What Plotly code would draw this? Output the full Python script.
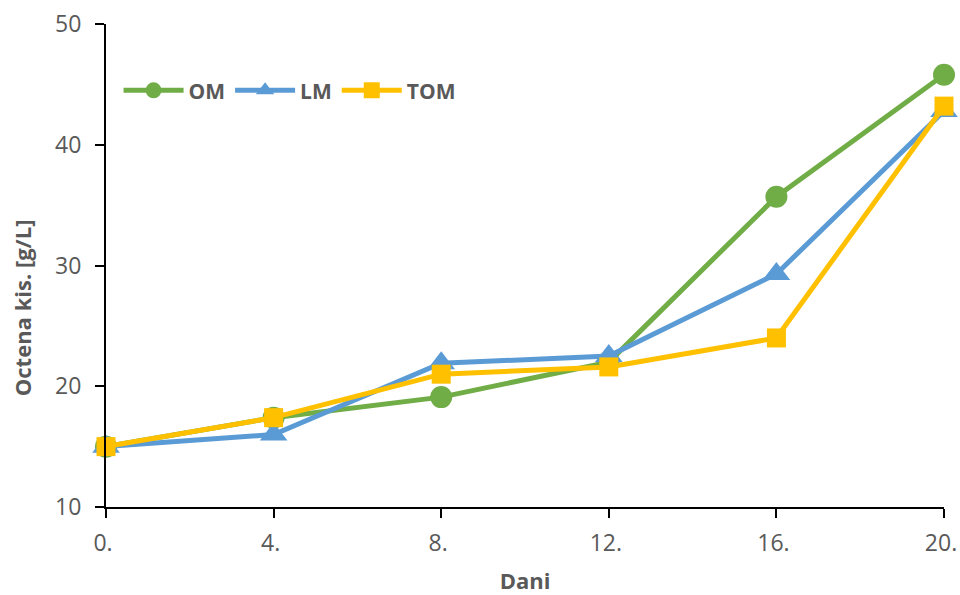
import plotly.graph_objects as go

days = [0, 4, 8, 12, 16, 20]
day_labels = ["0.", "4.", "8.", "12.", "16.", "20."]
om = [15.0, 17.4, 19.1, 22.0, 35.7, 45.8]
lm = [15.0, 16.0, 21.9, 22.5, 29.3, 42.8]
tom = [15.0, 17.4, 21.0, 21.6, 24.0, 43.2]
y_ticks = [10, 20, 30, 40, 50]

FONT = "Open Sans"
GRAY = "#595959"

fig = go.Figure()
series = [
    ("OM", om, "#70AD47", "circle", 22),
    ("LM", lm, "#5B9BD5", "triangle-up", 24),
    ("TOM", tom, "#FFC000", "square", 19),
]
for name, vals, col, sym, size in series:
    fig.add_trace(go.Scatter(
        x=days, y=vals, name=name, mode="lines+markers",
        line=dict(color=col, width=5),
        marker=dict(symbol=sym, size=size, color=col, line=dict(width=0)),
        cliponaxis=False,
    ))

fig.add_annotation(
    text="Octena kis. [g/L]", textangle=-90, showarrow=False,
    xref="paper", yref="paper", x=-0.1, y=0.412,
    xanchor="center", yanchor="middle",
    font=dict(family=FONT, size=22, color=GRAY, weight="bold"),
)

fig.update_layout(
    width=960, height=595,
    paper_bgcolor="white", plot_bgcolor="white",
    margin=dict(l=106, r=16, t=24, b=88),
    font=dict(family=FONT, color=GRAY, size=22),
    legend=dict(
        orientation="h", x=0.015, y=0.862, xanchor="left", yanchor="middle",
        font=dict(family=FONT, size=21, color=GRAY, weight="bold"),
        itemwidth=60, bgcolor="rgba(0,0,0,0)", tracegroupgap=0,
    ),
    xaxis=dict(
        range=[0, 20], tickmode="array", tickvals=days, ticktext=day_labels,
        automargin=False, ticklabeloverflow="allow", ticklabelstandoff=5,
        ticklabelshift=-3,
        showgrid=False, zeroline=False, showline=True, linecolor="black", linewidth=2,
        ticks="outside", ticklen=9, tickwidth=2, tickcolor="black",
        tickfont=dict(size=23, color=GRAY),
        title=dict(text="Dani", font=dict(size=22, color=GRAY, weight="bold"), standoff=22),
    ),
    yaxis=dict(
        range=[10, 50], tickmode="array", tickvals=y_ticks,
        automargin=False, ticklabeloverflow="allow", ticklabelstandoff=9,
        showgrid=False, zeroline=False, showline=True, linecolor="black", linewidth=2,
        ticks="outside", ticklen=9, tickwidth=2, tickcolor="black",
        tickfont=dict(size=23, color=GRAY),
    ),
)

fig.write_html(
    "out.html",
    config={"displayModeBar": False},
    post_script="document.body.style.margin='0';document.body.style.overflow='hidden';",
)
